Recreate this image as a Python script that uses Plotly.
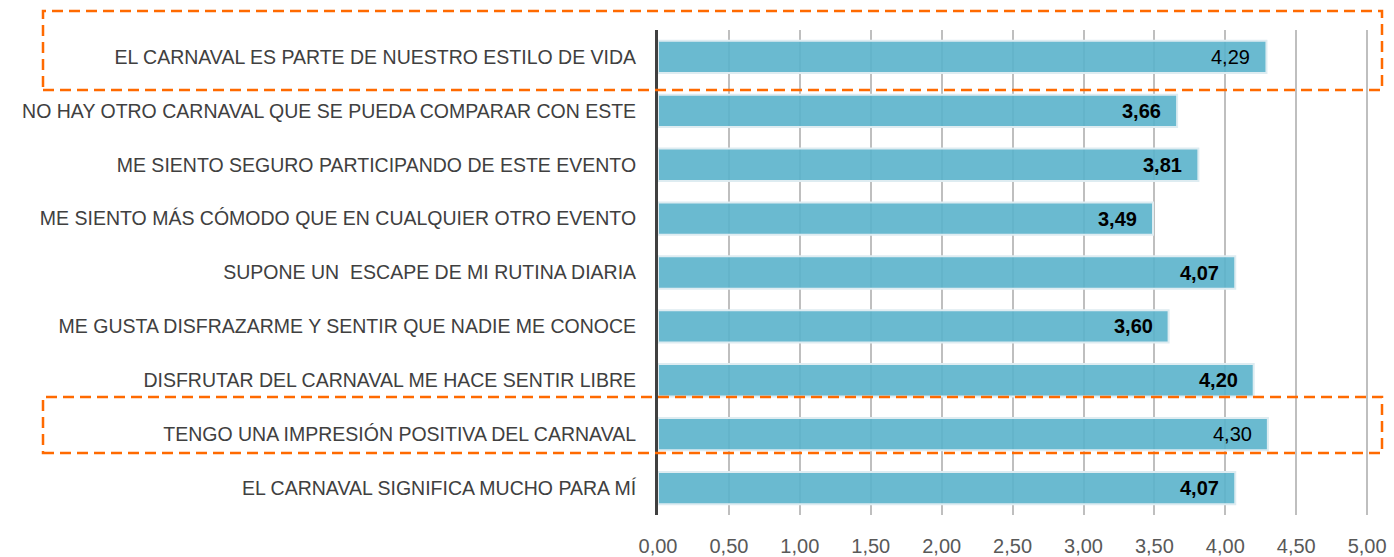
import plotly.graph_objects as go

categories = [
    "EL CARNAVAL ES PARTE DE NUESTRO ESTILO DE VIDA",
    "NO HAY OTRO CARNAVAL QUE SE PUEDA COMPARAR CON ESTE",
    "ME SIENTO SEGURO PARTICIPANDO DE ESTE EVENTO",
    "ME SIENTO MÁS CÓMODO QUE EN CUALQUIER OTRO EVENTO",
    "SUPONE UN  ESCAPE DE MI RUTINA DIARIA",
    "ME GUSTA DISFRAZARME Y SENTIR QUE NADIE ME CONOCE",
    "DISFRUTAR DEL CARNAVAL ME HACE SENTIR LIBRE",
    "TENGO UNA IMPRESIÓN POSITIVA DEL CARNAVAL",
    "EL CARNAVAL SIGNIFICA MUCHO PARA MÍ",
]
values = [4.29, 3.66, 3.81, 3.49, 4.07, 3.60, 4.20, 4.30, 4.07]
highlighted = [True, False, False, False, False, False, False, True, False]
tick_values = [0, 0.5, 1, 1.5, 2, 2.5, 3, 3.5, 4, 4.5, 5]

def fmt(v, hl):
    s = f"{v:.2f}".replace(".", ",")
    return s if hl else f"<b>{s}</b>"

texts = [fmt(v, h) for v, h in zip(values, highlighted)]

FONT = "Liberation Sans, Arial, sans-serif"

fig = go.Figure()
fig.add_trace(go.Bar(
    x=values,
    y=categories,
    orientation="h",
    width=0.6,
    marker=dict(color="rgba(90,178,203,0.9)", line=dict(color="rgb(222,236,241)", width=2)),
    hoverinfo="x+y",
))

for v, c, t in zip(values, categories, texts):
    fig.add_annotation(
        x=v, y=c, xref="x", yref="y",
        text=t, showarrow=False,
        xanchor="right", yanchor="middle", xshift=-14,
        font=dict(family=FONT, size=20, color="black"),
    )

plot_top = 30
plot_bottom = 515
plot_left = 658
plot_right = 1370
W, H = 1394, 557

def py(p):
    return (plot_bottom - p) / (plot_bottom - plot_top)

def px(p):
    return (p - plot_left) / (plot_right - plot_left)

rects = [(43, 11, 1382, 90), (43, 397, 1382, 453)]
shapes = []
for x0, y0, x1, y1 in rects:
    shapes.append(dict(
        type="rect", xref="paper", yref="paper",
        x0=px(x0), x1=px(x1), y0=py(y1), y1=py(y0),
        line=dict(color="#FF6A00", width=2.5, dash="11px,6px"),
        fillcolor="rgba(0,0,0,0)",
        layer="above",
    ))

fig.update_layout(
    width=W, height=H,
    margin=dict(l=plot_left, r=W - plot_right, t=plot_top, b=H - plot_bottom, pad=0),
    paper_bgcolor="white",
    plot_bgcolor="white",
    separators=",.",
    showlegend=False,
    shapes=shapes,
    xaxis=dict(
        range=[0, 5.02],
        tickvals=tick_values,
        tickformat=".2f",
        showgrid=True,
        gridcolor="#BFBFBF",
        gridwidth=2,
        zeroline=False,
        showline=False,
        ticks="",
        ticklabelstandoff=17,
        tickfont=dict(family=FONT, size=20, color="#595959"),
        fixedrange=True,
        automargin=False,
    ),
    yaxis=dict(
        categoryorder="array",
        categoryarray=categories,
        autorange="reversed",
        showgrid=False,
        zeroline=False,
        showline=True,
        linecolor="#404040",
        linewidth=3,
        ticks="",
        ticklabelstandoff=15,
        tickfont=dict(family=FONT, size=19.5, color="#404040"),
        fixedrange=True,
        automargin=False,
    ),
)

fig.write_html("out.html", config={"displayModeBar": False},
               post_script="document.body.style.margin='0';")
